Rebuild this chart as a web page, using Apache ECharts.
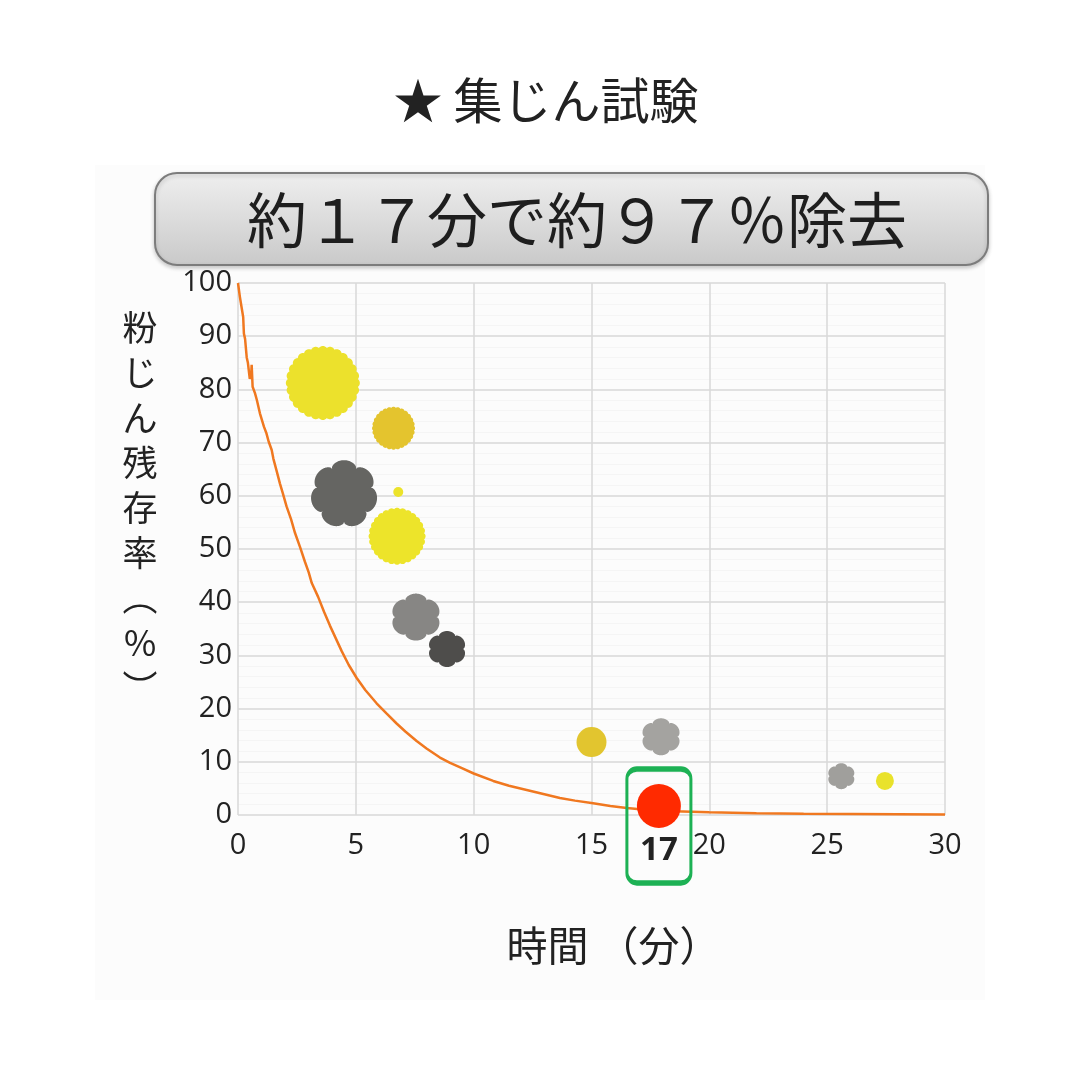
<!DOCTYPE html>
<html>
<head>
<meta charset="utf-8">
<script src="https://cdn.jsdelivr.net/npm/echarts@6/dist/echarts.min.js"></script>
<style>
html,body{margin:0;padding:0;background:#fff;}
#c{width:1080px;height:1080px;}
</style>
</head>
<body>
<div id="c"></div>
<script>
// ---- data ----
const titleText = '★ 集じん試験';
const bannerText = '約１７分で約９７％除去';
const xAxisTitle = '時間 （分）';
const yAxisTitleChars = ['粉','じ','ん','残','存','率','︵','%','︶'];
const xTicks = [0, 5, 10, 15, 20, 25, 30];
const yTicks = [0, 10, 20, 30, 40, 50, 60, 70, 80, 90, 100];

// residual-dust curve (minutes, %)
const curveTime = [0, 0.08, 0.15, 0.22, 0.25, 0.3, 0.37, 0.42, 0.5, 0.56, 0.58, 0.62, 0.72, 0.8, 0.93, 1.0, 1.1, 1.21, 1.3, 1.43, 1.5, 1.65, 1.78, 1.9, 2.06, 2.25, 2.42, 2.63, 2.84, 3.0, 3.13, 3.4, 3.65, 3.9, 4.15, 4.4, 4.7, 5.03, 5.4, 5.88, 6.3, 6.73, 7.1, 7.58, 8.0, 8.57, 9.0, 9.5, 10.0, 10.83, 11.5, 12.25, 13.0, 13.66, 14.3, 15.07, 15.8, 16.5, 17.5, 18.5, 20, 22, 24, 26, 28, 30];
const curveResidual = [100, 97.4, 95.5, 93.6, 90.5, 89.5, 86, 85, 82, 82.8, 84.6, 80.5, 79.3, 78, 75.5, 75.8, 73, 71.7, 70.2, 68.6, 67, 64.5, 62.3, 60.5, 58, 55.6, 53, 50.4, 47.6, 45.6, 43.6, 41, 38.2, 35.6, 33.2, 30.8, 28.2, 25.8, 23.5, 21, 19.1, 17.2, 15.7, 13.9, 12.5, 10.8, 9.8, 8.8, 7.8, 6.4, 5.5, 4.7, 3.9, 3.2, 2.7, 2.2, 1.7, 1.3, 0.9, 0.7, 0.5, 0.35, 0.25, 0.2, 0.15, 0.1];

// comparison particles (minutes, %, particle size)
const bubbleTime     = [3.6, 6.6, 4.5, 6.8, 6.75, 7.55, 8.87, 15.0, 17.95, 25.6, 27.45, 17.86];
const bubbleResidual = [81.2, 72.7, 60.5, 60.7, 52.4, 37.2, 31.2, 13.7, 14.7, 7.3, 6.4, 1.7];
const bubbleSizes    = [74, 43, 66, 10, 57, 47, 36, 30, 37, 26, 18, 44];
const bubbleKinds    = ['scallop','scallop','flower7','circle','scallop','flower6','flower6','circle','flower6','flower6','circle','circle'];
const highlightTime = 17;

// ---- styles ----
const bubbleColors = ['#ECE12C','#E4C42E','#656562','#ECE32B','#EDE42A','#878684','#4E4D4B','#E2C52F','#A4A3A0','#A09F9C','#E9E22B','#FF2A00'];
const FONT = '"Noto Sans CJK JP", "Noto Sans", sans-serif';
const NUMFONT = '"Open Sans", "Noto Sans", sans-serif';

function polarPath(n, base, amp, pw, steps) {
  let d = '';
  for (let i = 0; i <= steps; i++) {
    const th = 2 * Math.PI * i / steps;
    const r = base + amp * Math.pow(Math.abs(Math.cos(n * th / 2)), pw);
    const x = (r * Math.cos(th - Math.PI / 2) * 100).toFixed(2);
    const y = (r * Math.sin(th - Math.PI / 2) * 100).toFixed(2);
    d += (i === 0 ? 'M' : 'L') + x + ' ' + y + ' ';
  }
  return 'path://' + d + 'Z';
}
const symbols = {
  scallop: polarPath(28, 0.95, 0.05, 0.7, 560),
  flower7: polarPath(7, 0.82, 0.18, 0.5, 420),
  flower6: polarPath(6, 0.82, 0.18, 0.5, 420),
  circle: 'circle'
};
const boxPath = 'path://M10 0 L54 0 A10 10 0 0 1 64 10 L64 104 A10 10 0 0 1 54 114 L10 114 A10 10 0 0 1 0 104 L0 10 A10 10 0 0 1 10 0 Z';

const bubbleData = bubbleTime.map((t, i) => ({
  value: [t, bubbleResidual[i]],
  symbol: symbols[bubbleKinds[i]],
  symbolSize: bubbleSizes[i],
  itemStyle: { color: bubbleColors[i], opacity: 1 }
}));
const last = bubbleData.length - 1;
bubbleData[last].label = {
  show: true, position: 'bottom', distance: 6,
  formatter: String(highlightTime),
  fontSize: 33, fontWeight: 'bold', color: '#222', fontFamily: NUMFONT
};

const chart = echarts.init(document.getElementById('c'));
chart.setOption({
  backgroundColor: '#fff',
  animation: false,
  textStyle: { fontFamily: FONT },
  grid: { left: 238, right: 135, top: 283, bottom: 265 },
  graphic: [
    { type: 'rect', z: -10, shape: { x: 95, y: 165, width: 890, height: 835 }, style: { fill: '#FCFCFC' } },
    { type: 'text', x: 546, y: 100, style: { text: titleText, fontSize: 49, fill: '#222', fontFamily: FONT, align: 'center', verticalAlign: 'middle' } },
    { type: 'rect', z: 5, shape: { x: 155, y: 173, width: 833, height: 92, r: 22 },
      style: { fill: { type: 'linear', x: 0, y: 0, x2: 0, y2: 1, colorStops: [
        { offset: 0, color: '#EFEFEF' }, { offset: 0.5, color: '#DCDCDC' }, { offset: 1, color: '#C9C9C9' } ] },
        stroke: '#7C7C7C', lineWidth: 2, shadowColor: 'rgba(0,0,0,0.2)', shadowBlur: 4, shadowOffsetY: 2 } },
    { type: 'text', z: 6, x: 577, y: 220, style: { text: bannerText, fontSize: 60, fill: '#1E1E1E', fontFamily: FONT, align: 'center', verticalAlign: 'middle' } },
    { type: 'text', x: 140, y: 305, style: { text: yAxisTitleChars.join('\n'), fontSize: 35, lineHeight: 45, fill: '#222', fontFamily: FONT, align: 'center', verticalAlign: 'top' } }
  ],
  xAxis: {
    type: 'value', min: xTicks[0], max: xTicks[xTicks.length - 1], interval: 5,
    axisLine: { show: false }, axisTick: { show: false },
    axisLabel: { fontSize: 29, color: '#222', margin: 16, fontFamily: NUMFONT },
    splitLine: { show: true, lineStyle: { color: '#D9D9D9', width: 1.5 } },
    name: xAxisTitle, nameLocation: 'middle', nameGap: 110,
    nameTextStyle: { fontSize: 41, color: '#222', fontFamily: FONT, padding: [0, 0, 0, 44] }
  },
  yAxis: {
    type: 'value', min: yTicks[0], max: yTicks[yTicks.length - 1], interval: 10,
    axisLine: { show: false }, axisTick: { show: false },
    axisLabel: { fontSize: 29, color: '#222', margin: 6, fontFamily: NUMFONT },
    splitLine: { show: true, lineStyle: { color: '#D9D9D9', width: 1.5 } },
    minorTick: { show: false, splitNumber: 5 },
    minorSplitLine: { show: true, lineStyle: { color: '#F5F5F5', width: 1 } }
  },
  series: [
    {
      type: 'line', z: 2,
      data: curveTime.map((t, i) => [t, curveResidual[i]]),
      showSymbol: false, smooth: false,
      lineStyle: { color: '#F07820', width: 2.5 }
    },
    {
      type: 'scatter', z: 3,
      data: bubbleData
    },
    {
      type: 'scatter', z: 4, silent: true,
      data: [[bubbleTime[last], bubbleResidual[last]]],
      symbol: boxPath, symbolSize: [64, 114], symbolOffset: [0, 20],
      itemStyle: { color: 'rgba(0,0,0,0)', borderColor: '#1DB154', borderWidth: 4, opacity: 1 }
    }
  ]
});
</script>
</body>
</html>
